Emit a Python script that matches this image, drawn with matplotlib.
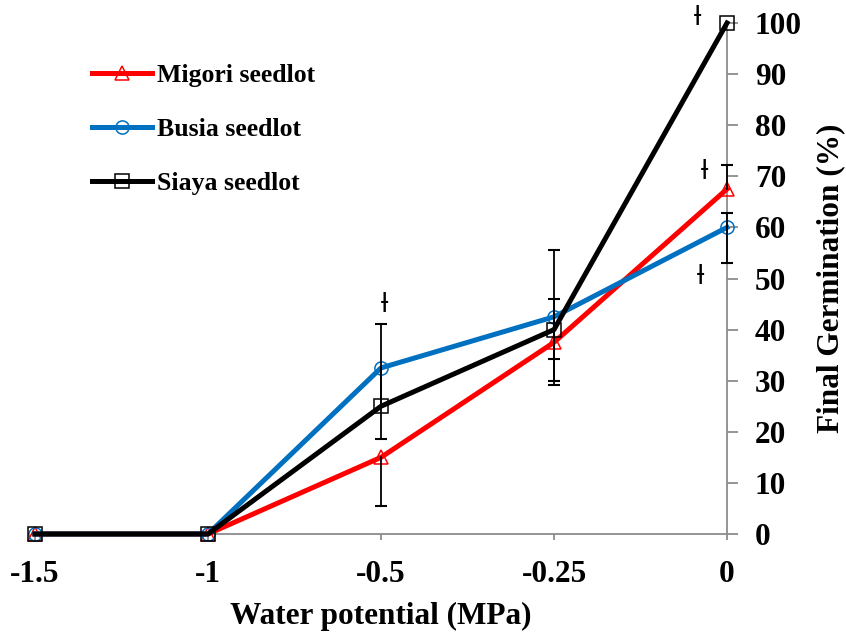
import numpy as np
import matplotlib
matplotlib.use("Agg")
import matplotlib.pyplot as plt

# ---- data ----
x_labels = ["-1.5", "-1", "-0.5", "-0.25", "0"]
migori = [0, 0, 15, 37.5, 67.5]
busia = [0, 0, 32.5, 42.5, 60]
siaya = [0, 0, 25, 40, 100]

# error bar lengths below / above the mean (0 = not drawn)
migori_lo = [0, 0, 9.5, 3.3, 0]
migori_hi = [0, 0, 0, 0, 4.7]
busia_lo = [0, 0, 14, 12.5, 7]
busia_hi = [0, 0, 0, 3.5, 2.8]
siaya_lo = [0, 0, 0, 10.8, 0]
siaya_hi = [0, 0, 16, 15.6, 0]

# significance marks: (category index, offset, height)
mark_idx = [2, 4, 4, 4]
mark_off = [0.02, -0.17, -0.13, -0.15]
mark_y = [44.8, 101, 70.8, 50.3]

plt.rcParams['font.family'] = ['Liberation Serif', 'DejaVu Serif']
plt.rcParams['font.weight'] = 'bold'

fig = plt.figure(figsize=(8.46, 6.37), dpi=100)
ax = fig.add_axes([35 / 846, 1 - 534 / 637, 692 / 846, 511 / 637])

xs = np.arange(len(x_labels))

series = [
    ("Migori seedlot", migori, migori_lo, migori_hi, "#FF0000", "^", 10.5),
    ("Busia seedlot", busia, busia_lo, busia_hi, "#0070C0", "o", 9.5),
    ("Siaya seedlot", siaya, siaya_lo, siaya_hi, "#000000", "s", 9.5),
]

for name, vals, lo, hi, col, mk, ms in series:
    ax.plot(xs, vals, color=col, lw=3.6, marker=mk, ms=ms, mfc="none",
            mec=col, mew=1.1, label=name, clip_on=False, zorder=3)

# error bars drawn on top of the lines
for name, vals, lo, hi, col, mk, ms in series:
    for i in range(len(xs)):
        ends = []
        if lo[i] > 0:
            ends.append(vals[i] - lo[i])
        if hi[i] > 0:
            ends.append(vals[i] + hi[i])
        for e in ends:
            ax.plot([xs[i], xs[i]], [vals[i], e], color="black", lw=1.3,
                    zorder=5, clip_on=False)
            ax.plot([xs[i]], [e], marker="_", ms=9, mew=1.5, color="black",
                    zorder=5, clip_on=False)

for i, off, yv in zip(mark_idx, mark_off, mark_y):
    ax.text(xs[i] + off, yv, "ƚ", ha="center", va="center", fontsize=19,
            fontweight="normal", family=["DejaVu Sans"], zorder=6)

ax.set_xlim(0, len(xs) - 1)
ax.set_ylim(0, 100)
ax.set_xticks(xs)
ax.set_xticklabels(x_labels)
ax.set_yticks(np.arange(0, 101, 10))

ax.yaxis.tick_right()
ax.yaxis.set_label_position("right")
for s in ["top", "left"]:
    ax.spines[s].set_visible(False)
for s in ["right", "bottom"]:
    ax.spines[s].set_color("#8c8c8c")
    ax.spines[s].set_linewidth(1.3)

ax.tick_params(axis="y", direction="out", length=8, width=1.3, color="#8c8c8c",
               labelsize=22.5, pad=12)
ax.tick_params(axis="x", direction="out", length=4, width=1.3, color="#8c8c8c",
               labelsize=22.5, pad=15)

ax.set_xlabel("Water potential (MPa)", fontsize=22.5, fontweight="bold", labelpad=9)
ax.set_ylabel("Final Germination (%)", fontsize=22.5, fontweight="bold", labelpad=10)

leg = ax.legend(loc="upper left", bbox_to_anchor=(0.083, 0.92), frameon=False,
                fontsize=18.5, handlelength=2.3, handletextpad=0.2,
                labelspacing=1.2, borderpad=0, borderaxespad=0)
for t in leg.get_texts():
    t.set_fontweight("bold")

fig.savefig("out.png", dpi=100)
